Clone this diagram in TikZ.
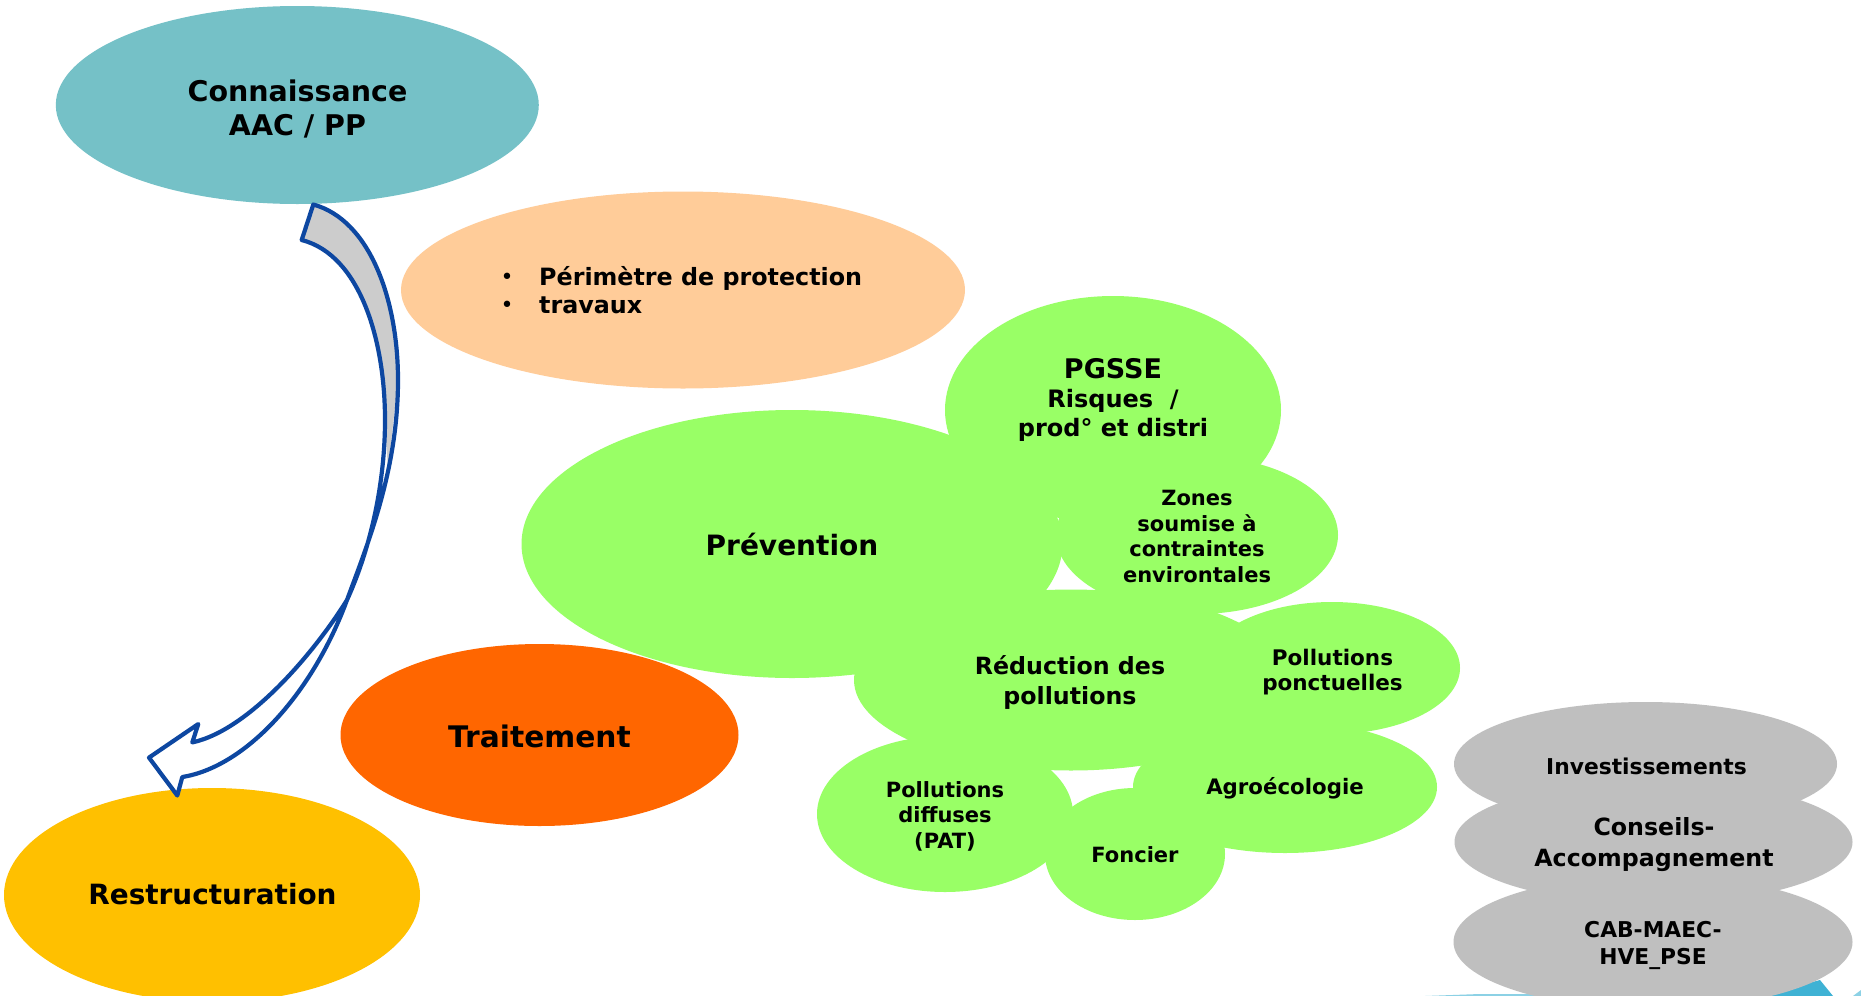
\documentclass[tikz,border=0pt]{standalone}
\usepackage{fontspec}
\usetikzlibrary{shapes.geometric}
\setmainfont{DejaVu Sans}
\definecolor{teal1}{HTML}{75C1C7}
\definecolor{peach}{HTML}{FFCC99}
\definecolor{lime}{HTML}{99FF66}
\definecolor{orng}{HTML}{FF6600}
\definecolor{gold}{HTML}{FFC000}
\definecolor{greyb}{HTML}{BFBFBF}
\definecolor{arrowblue}{HTML}{0D47A1}
\definecolor{cyanb}{HTML}{3FB2D4}
\newcommand{\fs}[2]{\fontsize{#1}{#2}\selectfont}
\tikzset{
  blob/.style={ellipse,inner sep=0pt,draw=none},
  label text/.style 2 args={inner sep=0pt,align=center,font=\bfseries\fs{#1}{#2}},
}
\begin{document}
\begin{tikzpicture}[x=1pt,y=-1pt]
\useasboundingbox (0,0) rectangle (1861,996);
\fill[white] (0,0) rectangle (1861,996);
\fill[cyanb] (1760,996) -- (1820,980) -- (1833,996) -- cycle;
\fill[cyanb!60] (1425,996) -- (1480,994) -- (1540,994) -- (1540,996) -- cycle;
\fill[cyanb!60] (1853,996) -- (1861,990) -- (1861,996) -- cycle;
\node[blob,fill=teal1,minimum width=483pt,minimum height=198pt] (conn) at (297.3,105) {};
\node[label text={28.5}{34}] (conntxt) at (297.5,108.5) {Connaissance\\AAC / PP};
\node[blob,fill=peach,minimum width=564pt,minimum height=197pt] (perim) at (683,290) {};
\node[inner sep=0pt,font=\bfseries\fs{23.8}{28},anchor=base west] (perimtxt) at (539,285) {Périmètre de protection};
\node[inner sep=0pt,font=\bfseries\fs{23.8}{28},anchor=base west] (travtxt) at (539,313) {travaux};
\node[inner sep=0pt,font=\fs{22}{24}] (b1) at (507,278.5) {•};
\node[inner sep=0pt,font=\fs{22}{24}] (b2) at (507,306.5) {•};
\node[blob,fill=lime,minimum width=541pt,minimum height=268pt] (prev) at (792,544) {};
\node[label text={28}{34}] (prevtxt) at (792,544.5) {Prévention};
\node[blob,fill=lime,minimum width=336pt,minimum height=228pt] (pgsse) at (1113,410) {};
\node[label text={24}{29}] (pgtxt) at (1113,399.5) {{\fs{27}{29}PGSSE}\\Risques~ /\\prod° et distri};
\node[blob,fill=lime,minimum width=282pt,minimum height=158pt] (zones) at (1197,535) {};
\node[label text={21}{25.7}] (ztxt) at (1197,536.5) {Zones\\soumise à\\contraintes\\environtales};
\node[blob,fill=lime,minimum width=434pt,minimum height=181pt] (reduc) at (1071,680) {};
\node[label text={23.7}{30}] (rtxt) at (1070,682) {Réduction des\\pollutions};
\node[blob,fill=lime,minimum width=256pt,minimum height=132pt] (ponct) at (1332,668) {};
\node[label text={21.5}{25}] (ptxt) at (1332.5,672) {Pollutions\\ponctuelles};
\node[blob,fill=lime,minimum width=304pt,minimum height=132pt] (agro) at (1285,787) {};
\node[label text={21.3}{25}] (atxt) at (1285,788.5) {Agroécologie};
\node[blob,fill=lime,minimum width=256pt,minimum height=156pt] (diff) at (945,814) {};
\node[label text={21}{25.5}] (dtxt) at (945,816) {Pollutions\\diffuses\\(PAT)};
\node[blob,fill=lime,minimum width=180pt,minimum height=132pt] (fonc) at (1135,854) {};
\node[label text={21}{25}] (ftxt) at (1135,855) {Foncier};
\node[blob,fill=orng,minimum width=398pt,minimum height=182pt] (trait) at (539.5,735) {};
\node[label text={29.7}{35}] (ttxt) at (539.5,736) {Traitement};
\node[blob,fill=gold,minimum width=416pt,minimum height=214pt] (restr) at (212,895) {};
\node[label text={27.9}{33}] (rstxt) at (212.5,894) {Restructuration};
\node[blob,fill=greyb,minimum width=383pt,minimum height=124pt] (inv) at (1645.5,764) {};
\node[label text={21.8}{26}] (itxt) at (1646.5,766) {Investissements};
\node[blob,fill=greyb,minimum width=398pt,minimum height=124pt] (cons) at (1653.5,842) {};
\node[label text={23.7}{31}] (ctxt) at (1654,845) {Conseils-\\Accompagnement};
\node[blob,fill=greyb,minimum width=399pt,minimum height=134pt] (cab) at (1653,942) {};
\node[label text={21.8}{27}] (ctxt2) at (1653,945) {CAB-MAEC-\\HVE\_PSE};
% curved arrow
\coordinate (A) at (313.3,204.5);
\coordinate (B) at (301.7,240);
\coordinate (O1) at (398,380);
\coordinate (I1) at (385,420);
\coordinate (M) at (347,600);
\coordinate (E) at (182.3,777);
\coordinate (D) at (177.3,795.5);
\coordinate (T) at (149,757.6);
\coordinate (U) at (198.3,724);
\coordinate (H) at (192.3,742.4);
\fill[white] (M) .. controls (312,695) and (245,767) .. (E) -- (D) -- (T) -- (U) -- (H) .. controls (250,730) and (316,650) .. (M) -- cycle;
\fill[black!20] (A) .. controls (370,220) and (398,300) .. (O1) -- (388,470) -- (I1) .. controls (385,340) and (360,255) .. (B) -- cycle;
\draw[arrowblue,line width=4.2pt,line join=round] (A) .. controls (370,220) and (398,300) .. (O1) .. controls (398,470) and (368,543) .. (M) .. controls (312,695) and (245,767) .. (E) -- (D) -- (T) -- (U) -- (H) .. controls (250,730) and (316,650) .. (M) .. controls (372,545) and (385,480) .. (I1) .. controls (385,340) and (360,255) .. (B) -- cycle;
\end{tikzpicture}
\end{document}
